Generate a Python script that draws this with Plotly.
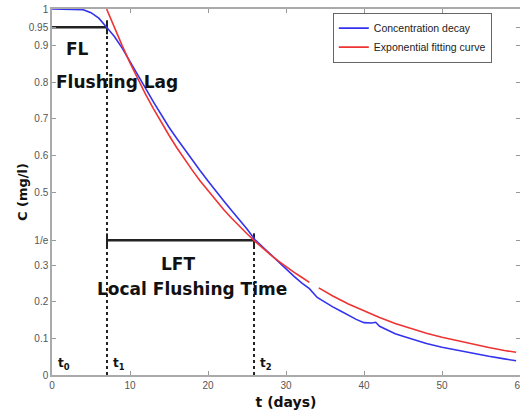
import plotly.graph_objects as go
import math

# ---- data ----
t_blue = [0, 2, 4, 5, 6, 7, 8, 9, 10, 11, 12, 13, 14, 15, 16, 17, 18, 19, 20, 21,
          22, 23, 24, 25, 26, 27, 28, 29, 30, 31, 32, 33, 34, 35, 36, 37, 38, 39,
          40, 41, 41.5, 42, 43, 44, 45, 46, 48, 50, 52, 54, 56, 58, 59.5]
c_blue = [1.0, 1.0, 0.998, 0.99, 0.975, 0.95, 0.925, 0.893, 0.855, 0.82, 0.783, 0.746,
          0.71, 0.677, 0.646, 0.616, 0.587, 0.558, 0.53, 0.502, 0.476, 0.45, 0.425,
          0.399, 0.37, 0.35, 0.328, 0.308, 0.288, 0.27, 0.252, 0.236, 0.212, 0.198,
          0.186, 0.175, 0.163, 0.152, 0.143, 0.142, 0.144, 0.133, 0.123, 0.113, 0.106,
          0.099, 0.086, 0.076, 0.067, 0.058, 0.051, 0.044, 0.039]

t_red = [7, 8, 9, 10, 11, 12, 13, 14, 15, 16, 17, 18, 19, 20, 21, 22, 23, 24, 25,
         26, 27, 28, 29, 30, 31, 32, 33, 33.6, 34.2, 35, 36, 38, 40, 42, 44, 46, 48,
         50, 52, 54, 56, 58, 59.5]
c_red = [1.0, 0.948, 0.9, 0.853, 0.809, 0.767, 0.728, 0.69, 0.655, 0.621, 0.589,
         0.559, 0.53, 0.503, 0.477, 0.452, 0.429, 0.407, 0.386, 0.366, 0.347, 0.329,
         0.312, 0.296, 0.281, 0.267, 0.253, None, 0.238, 0.228, 0.216, 0.194, 0.175,
         0.157, 0.141, 0.127, 0.114, 0.103, 0.093, 0.083, 0.075, 0.067, 0.062]

t0, t1, t2 = 0.0, 7.05, 25.9
c_fl = 0.95
c_lft = 1 / math.e

x_ticks = [0, 10, 20, 30, 40, 50, 60]
y_ticks = [0, 0.1, 0.2, 0.3, c_lft, 0.5, 0.6, 0.7, 0.8, 0.9, 0.95, 1]
y_tick_labels = ["0", "0.1", "0.2", "0.3", "1/e", "0.5", "0.6", "0.7", "0.8", "0.9", "0.95", "1"]

fig = go.Figure()

# vertical dotted markers
fig.add_trace(go.Scatter(x=[t1, t1], y=[0, c_fl], mode="lines",
                         line=dict(color="#222", width=2, dash="dot"), showlegend=False, hoverinfo="skip"))
fig.add_trace(go.Scatter(x=[t2, t2], y=[0, c_lft], mode="lines",
                         line=dict(color="#222", width=2, dash="dot"), showlegend=False, hoverinfo="skip"))
# horizontal intervals
fig.add_trace(go.Scatter(x=[t0, t1], y=[c_fl, c_fl], mode="lines",
                         line=dict(color="#222", width=2.5), showlegend=False, hoverinfo="skip"))
fig.add_trace(go.Scatter(x=[t1, t2], y=[c_lft, c_lft], mode="lines+markers",
                         marker=dict(symbol="line-ns", size=10, line=dict(width=2, color="#222")),
                         line=dict(color="#222", width=2.5), showlegend=False, hoverinfo="skip"))
fig.add_trace(go.Scatter(x=[t1], y=[c_fl], mode="markers",
                         marker=dict(symbol="line-ns", size=10, line=dict(width=2, color="#222")),
                         showlegend=False, hoverinfo="skip"))

fig.add_trace(go.Scatter(x=t_blue, y=c_blue, mode="lines", name="Concentration decay",
                         line=dict(color="#3333ee", width=1.6)))
fig.add_trace(go.Scatter(x=t_red, y=c_red, mode="lines", name="Exponential fitting curve",
                         line=dict(color="#ee3333", width=1.6), connectgaps=False))

bold = dict(family="DejaVu Sans", size=17, color="#111")
ann = [
    dict(x=3.3, y=0.89, text="<b>FL</b>"),
    dict(x=8.35, y=0.80, text="<b>Flushing Lag</b>"),
    dict(x=16.2, y=0.303, text="<b>LFT</b>"),
    dict(x=18.0, y=0.235, text="<b>Local Flushing Time</b>"),
]
for a in ann:
    fig.add_annotation(x=a["x"], y=a["y"], text=a["text"], showarrow=False, font=bold)

sub_font = dict(family="DejaVu Sans", size=12, color="#111")
for tx, lab in [(t0, "0"), (t1, "1"), (t2, "2")]:
    fig.add_annotation(x=tx, y=0.03, text=f"<b>t<sub>{lab}</sub></b>", showarrow=False,
                       xanchor="left", xshift=4, font=sub_font)

# y-axis title as rotated text
fig.add_annotation(xref="paper", yref="paper", x=-0.064, y=0.5, text="<b>C (mg/l)</b>",
                   textangle=-90, showarrow=False, xanchor="center", yanchor="middle",
                   font=dict(family="DejaVu Sans", size=13, color="#111"))

fig.update_layout(
    width=520, height=410,
    margin=dict(l=52, r=0, t=9, b=35),
    paper_bgcolor="white", plot_bgcolor="white",
    font=dict(family="Liberation Sans", size=10, color="#555"),
    legend=dict(x=0.6, y=0.99, xanchor="left", yanchor="top",
                bgcolor="white", bordercolor="#666", borderwidth=1,
                font=dict(family="Liberation Sans", size=10.5, color="#222"),
                tracegroupgap=0, itemwidth=30),
    showlegend=True,
)
fig.update_xaxes(range=[0, 60], tickvals=x_ticks, ticks="inside", ticklen=4,
                 tickcolor="#999", showline=True, linecolor="#aaa", linewidth=1.5,
                 mirror="ticks", showgrid=False, zeroline=False, automargin=False,
                 ticklabeloverflow="allow",
                 title=dict(text="<b>t (days)</b>", font=dict(family="DejaVu Sans", size=14, color="#111")))
fig.update_yaxes(range=[0, 1], tickvals=y_ticks, ticktext=y_tick_labels, ticks="inside",
                 ticklen=4, tickcolor="#999", showline=True, linecolor="#aaa", linewidth=1.5,
                 mirror="ticks", showgrid=False, zeroline=False, automargin=False)

fig.write_html("out.html", config={"displayModeBar": False},
               post_script="document.body.style.margin='0';")
